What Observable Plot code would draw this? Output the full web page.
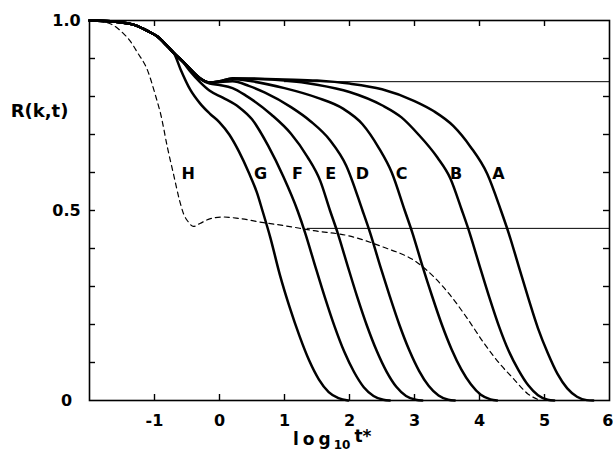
<!DOCTYPE html>
<html>
<head>
<meta charset="utf-8">
<script src="https://cdn.jsdelivr.net/npm/d3@7"></script>
<script src="https://cdn.jsdelivr.net/npm/@observablehq/plot@0.6"></script>
<style>
  body { margin: 0; background: #fff; }
  #chart svg { display: block; }
</style>
</head>
<body>
<div id="chart"></div>
<script>
// Initial decay shared by all solid curves (log10 t*, R)
const earlyDecay = [[-2, 1], [-1.6, 0.997], [-1.3, 0.988], [-1.1, 0.972], [-0.95, 0.957], [-0.8, 0.932], [-0.7, 0.914]];

const seriesA = [[-0.55, 0.89], [-0.45, 0.872], [-0.3, 0.848], [-0.15, 0.837], [0, 0.84], [0.2, 0.848], [0.6, 0.847], [1.0, 0.845], [1.5, 0.842], [2.0, 0.834], [2.5, 0.819], [3.0, 0.788], [3.3, 0.761], [3.6, 0.722], [3.86, 0.668], [4.12, 0.596], [4.33, 0.5], [4.45, 0.44], [4.6, 0.355], [4.75, 0.27], [4.9, 0.19], [5.05, 0.125], [5.2, 0.07], [5.35, 0.032], [5.5, 0.01], [5.65, 0.001], [5.75, 0]];
const seriesB = [[-0.55, 0.89], [-0.45, 0.872], [-0.3, 0.848], [-0.15, 0.837], [0, 0.84], [0.2, 0.847], [0.6, 0.846], [1.0, 0.842], [1.5, 0.831], [2.0, 0.812], [2.5, 0.777], [2.8, 0.745], [3.05, 0.702], [3.35, 0.64], [3.55, 0.585], [3.73, 0.5], [3.85, 0.44], [4.0, 0.355], [4.15, 0.272], [4.3, 0.195], [4.45, 0.13], [4.6, 0.08], [4.75, 0.04], [4.9, 0.014], [5.05, 0.002], [5.15, 0]];
const seriesC = [[-0.55, 0.89], [-0.45, 0.872], [-0.3, 0.848], [-0.15, 0.837], [0, 0.839], [0.2, 0.846], [0.5, 0.84], [1.0, 0.822], [1.5, 0.797], [1.9, 0.768], [2.2, 0.727], [2.45, 0.665], [2.65, 0.6], [2.85, 0.5], [2.97, 0.44], [3.12, 0.355], [3.27, 0.275], [3.42, 0.2], [3.57, 0.135], [3.72, 0.082], [3.87, 0.042], [4.02, 0.015], [4.17, 0.003], [4.27, 0]];
const seriesD = [[-0.55, 0.89], [-0.45, 0.872], [-0.3, 0.848], [-0.15, 0.836], [0, 0.838], [0.2, 0.84], [0.45, 0.828], [0.7, 0.81], [1.1, 0.772], [1.4, 0.735], [1.7, 0.685], [1.95, 0.618], [2.2, 0.5], [2.32, 0.44], [2.47, 0.355], [2.62, 0.274], [2.77, 0.198], [2.92, 0.132], [3.07, 0.078], [3.22, 0.038], [3.37, 0.013], [3.52, 0.002], [3.62, 0]];
const seriesE = [[-0.55, 0.89], [-0.45, 0.872], [-0.3, 0.847], [-0.15, 0.834], [0, 0.83], [0.2, 0.822], [0.4, 0.803], [0.8, 0.752], [1.1, 0.702], [1.35, 0.642], [1.55, 0.578], [1.7, 0.5], [1.82, 0.44], [1.97, 0.355], [2.12, 0.272], [2.27, 0.196], [2.42, 0.13], [2.57, 0.076], [2.72, 0.036], [2.87, 0.012], [3.02, 0.002], [3.12, 0]];
const seriesF = [[-0.55, 0.888], [-0.45, 0.866], [-0.3, 0.838], [-0.15, 0.815], [0.05, 0.797], [0.3, 0.772], [0.5, 0.74], [0.75, 0.67], [0.98, 0.59], [1.2, 0.5], [1.32, 0.44], [1.47, 0.355], [1.62, 0.272], [1.77, 0.195], [1.92, 0.128], [2.07, 0.075], [2.22, 0.035], [2.37, 0.012], [2.52, 0.002], [2.62, 0]];
const seriesG = [[-0.6, 0.872], [-0.45, 0.818], [-0.3, 0.782], [-0.15, 0.755], [0, 0.732], [0.15, 0.7], [0.3, 0.655], [0.45, 0.6], [0.58, 0.545], [0.66, 0.5], [0.78, 0.43], [0.93, 0.33], [1.08, 0.245], [1.23, 0.17], [1.38, 0.105], [1.53, 0.055], [1.68, 0.022], [1.83, 0.006], [1.98, 0]];
// Dashed reference curve H
const seriesH = [[-2, 1], [-1.8, 0.997], [-1.63, 0.987], [-1.48, 0.966], [-1.37, 0.945], [-1.26, 0.915], [-1.11, 0.87], [-0.98, 0.8], [-0.9, 0.75], [-0.8, 0.665], [-0.7, 0.59], [-0.62, 0.53], [-0.55, 0.49], [-0.48, 0.47], [-0.4, 0.458], [-0.3, 0.466], [-0.15, 0.478], [0.05, 0.483], [0.3, 0.479], [0.68, 0.468], [1.0, 0.46], [1.45, 0.447], [1.97, 0.434], [2.5, 0.405], [3.05, 0.362], [3.3, 0.325], [3.55, 0.277], [3.82, 0.214], [4.06, 0.153], [4.32, 0.095], [4.52, 0.058], [4.74, 0.018], [4.94, 0]];

// Plateau levels of the solid and dashed families
const plateaus = [{from: 1.0, to: 6, level: 0.839}, {from: 1.35, to: 6, level: 0.453}];

// Curve labels
const curveNames = ["H", "G", "F", "E", "D", "C", "B", "A"];
const curveLabelX = [-0.48, 0.63, 1.2, 1.71, 2.2, 2.8, 3.64, 4.29];
const curveLabelY = 0.597;

// Axis ticks and labels
const xTickMarks = [-1, 0, 1, 2, 3, 4, 5];
const xTickLabels = [-1, 0, 1, 2, 3, 4, 5, 6];
const yTickMarks = [0.1, 0.2, 0.3, 0.4, 0.5, 0.6, 0.7, 0.8, 0.9];
const yTickLabels = [0, 0.5, 1];

const solid = {A: seriesA, B: seriesB, C: seriesC, D: seriesD, E: seriesE, F: seriesF, G: seriesG};
const solidRows = Object.entries(solid).flatMap(([name, pts]) =>
  [...earlyDecay, ...pts].map(([x, y]) => ({name, x, y})));
const dashedRows = seriesH.map(([x, y]) => ({name: "H", x, y}));
const labelRows = curveNames.map((t, i) => ({t, x: curveLabelX[i], y: curveLabelY}));

const W = 613, H = 453;
const mL = 89, mR = 4, mT = 20, mB = 53;
const innerW = W - mL - mR, innerH = H - mT - mB;
const tick = 6;
const font = "'DejaVu Sans', 'Liberation Sans', Arial, sans-serif";
const xMax = 6;

const chart = Plot.plot({
  width: W, height: H,
  marginLeft: mL, marginRight: mR, marginTop: mT, marginBottom: mB,
  style: {fontFamily: font, fontWeight: "bold", fontSize: "16px", color: "#000", background: "#fff"},
  x: {domain: [-2, xMax], axis: null},
  y: {domain: [0, 1], axis: null},
  marks: [
    // inward ticks on all four sides
    Plot.ruleX(xTickMarks, {insetTop: innerH - tick, stroke: "#000", strokeWidth: 1.4}),
    Plot.ruleX(xTickMarks, {insetBottom: innerH - tick, stroke: "#000", strokeWidth: 1.4}),
    Plot.ruleY(yTickMarks, {insetRight: innerW - tick, stroke: "#000", strokeWidth: 1.4}),
    Plot.ruleY(yTickMarks, {insetLeft: innerW - tick, stroke: "#000", strokeWidth: 1.4}),
    // tick labels (the last one sits flush with the right edge)
    Plot.text(xTickLabels.filter(d => d < xMax), {x: d => d, y: 0, text: d => String(d), dy: 20, fontSize: 16, fontWeight: "bold"}),
    Plot.text(xTickLabels.filter(d => d >= xMax), {x: d => d, y: 0, text: d => String(d), dy: 20, dx: 4, textAnchor: "end", fontSize: 16, fontWeight: "bold"}),
    Plot.text(yTickLabels, {x: -2, y: d => d, text: d => d === 0 ? "0" : d.toFixed(1), dx: -23, textAnchor: "middle", fontSize: 16, fontWeight: "bold"}),
    // plateau guides
    Plot.ruleY(plateaus, {y: "level", x1: "from", x2: "to", stroke: "#000", strokeWidth: 1}),
    // curves
    Plot.line(dashedRows, {x: "x", y: "y", stroke: "#000", strokeWidth: 1.2, strokeDasharray: "5,4", curve: "monotone-x"}),
    Plot.line(solidRows, {x: "x", y: "y", z: "name", stroke: "#000", strokeWidth: 2.5, curve: "monotone-x"}),
    Plot.text(labelRows, {x: "x", y: "y", text: "t", fontSize: 16, fontWeight: "bold"}),
    // y label
    Plot.text(["R(k,t)"], {frameAnchor: "top-left", dx: -50, dy: 84, lineAnchor: "top", textAnchor: "middle", fontSize: 18, fontWeight: "bold"}),
    Plot.frame({stroke: "#000", strokeWidth: 1.6})
  ]
});

// x label: log10 t* with subscript
const svg = d3.select(chart);
const xl = svg.append("text")
  .attr("x", 293).attr("y", 445)
  .attr("text-anchor", "start")
  .attr("font-family", font).attr("font-weight", "bold").attr("font-size", 17)
  .attr("fill", "#000");
xl.append("tspan").attr("letter-spacing", 4).text("log");
xl.append("tspan").attr("font-size", 12).attr("dy", 4).attr("dx", -1).text("10");
xl.append("tspan").attr("dy", -7).attr("dx", 4).text("t*");

document.getElementById("chart").append(chart);
</script>
</body>
</html>
